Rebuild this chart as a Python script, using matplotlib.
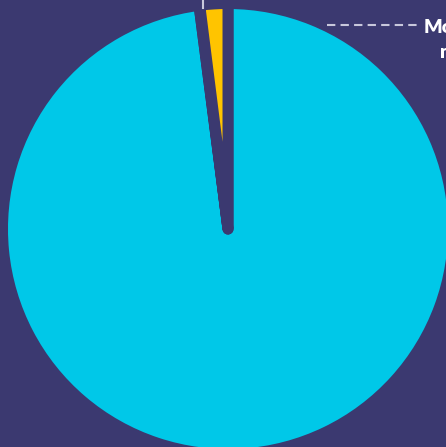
import matplotlib
matplotlib.use("Agg")
import matplotlib.pyplot as plt

categories = ["Other", "Tiny", "Minor"]
values = [97.95, 0.05, 2.0]
colors = ["#00C8E8", "#3B3970", "#FFC400"]
label_text = "Mobile\nn/a"

BG = "#3B3970"
W, H = 446, 447
fig = plt.figure(figsize=(W / 100, H / 100), dpi=100, facecolor=BG)
ax = fig.add_axes([0, 0, 1, 1])
ax.set_facecolor(BG)

cx, cy, R = 228, 229, 220

wedges, _ = ax.pie(values, colors=colors, startangle=90, counterclock=False,
                   radius=1.025, center=(0, 0), frame=True,
                   wedgeprops=dict(edgecolor=BG, linewidth=7.9, joinstyle="round"))
ax.set_xlim(-cx / R, (W - cx) / R)
ax.set_ylim(-(H - cy) / R, cy / R)
ax.axis("off")

# leader lines (figure pixel coords)
def fx(x): return x / W
def fy(y): return 1 - y / H

fig.add_artist(plt.Line2D([fx(202.5), fx(202.5)], [fy(0), fy(8)], color="#C8C8DC", lw=1.5))
fig.add_artist(plt.Line2D([fx(327), fx(418)], [fy(25), fy(25)], color="#C8C8DC", lw=1.5,
                          linestyle=(0, (4, 2.5))))
fig.text(fx(455), fy(58), label_text, color="white", fontsize=14, fontweight="heavy",
         ha="center", va="baseline", linespacing=1.6, family="Lato",
         transform=fig.transFigure)

fig.savefig("out.png", dpi=100, facecolor=BG)
